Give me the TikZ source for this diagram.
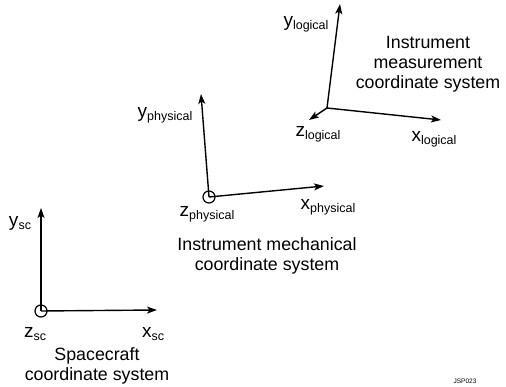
\documentclass[tikz,border=0pt]{standalone}
\usepackage{fontspec}
\setmainfont{Liberation Sans}
\usetikzlibrary{arrows.meta}
\newcommand{\lab}[2]{#1\raisebox{-0.3ex}{\fontsize{12.5}{12.5}\selectfont #2}}
\tikzset{
  axis/.style={line width=1.4pt,-{Stealth[length=10pt,width=7pt,inset=2.5pt]}},
  orig/.style={line width=1.2pt},
  lbl/.style={inner sep=0pt,font=\fontsize{19}{19}\selectfont},
  title/.style={inner sep=0pt,align=center,font=\fontsize{17.8}{20}\selectfont}
}
\begin{document}
\begin{tikzpicture}[x=1pt,y=-1pt]
\useasboundingbox (0,0) rectangle (506,387);
% spacecraft
\coordinate (o1) at (41,311);
\coordinate (x1) at (157,310);
\coordinate (y1) at (41,208);
\draw[axis] (o1) -- (x1);
\draw[axis] (o1) -- (y1);
\draw[orig] (o1) circle (6);
\node[lbl] (ly1) at (20,223) {\lab{y}{sc}};
\node[lbl] (lz1) at (35,334) {\lab{z}{sc}};
\node[lbl] (lx1) at (153,334) {\lab{x}{sc}};
\node[title] (t1) at (97,366) {Spacecraft\\coordinate system};
% physical
\coordinate (o2) at (209,197);
\coordinate (x2) at (324,186);
\coordinate (y2) at (201,94);
\draw[axis] (o2) -- (x2);
\draw[axis] (o2) -- (y2);
\draw[orig] (o2) circle (6);
\node[lbl] (ly2) at (165,115) {\lab{y}{physical}};
\node[lbl] (lz2) at (207,214) {\lab{z}{physical}};
\node[lbl] (lx2) at (328,207) {\lab{x}{physical}};
\node[title] (t2) at (267,256) {Instrument mechanical\\coordinate system};
% logical
\coordinate (o3) at (327,108);
\coordinate (x3) at (441,120);
\coordinate (y3) at (340,4);
\coordinate (z3) at (309,120);
\draw[axis] (o3) -- (x3);
\draw[axis] (o3) -- (y3);
\draw[axis] (o3) -- (z3);
\node[lbl] (ly3) at (306,24) {\lab{y}{logical}};
\node[lbl] (lz3) at (318,134) {\lab{z}{logical}};
\node[lbl] (lx3) at (434,139) {\lab{x}{logical}};
\node[title] (t3) at (428,64) {Instrument\\measurement\\coordinate system};
\node[inner sep=0pt,font=\fontsize{6.5}{7}\selectfont] (code) at (465,381) {JSP023};
\end{tikzpicture}
\end{document}
